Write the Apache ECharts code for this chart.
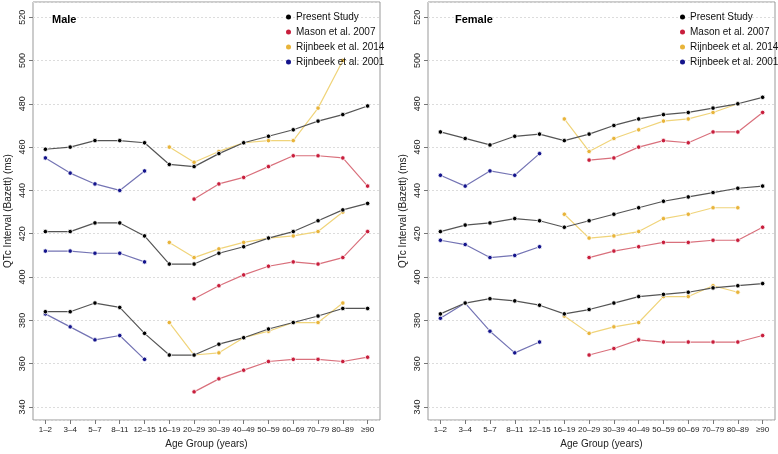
<!DOCTYPE html>
<html><head><meta charset="utf-8">
<script src="https://cdn.jsdelivr.net/npm/echarts@6/dist/echarts.min.js"></script>
<style>html,body{margin:0;padding:0;background:#fff}#c{width:778px;height:454px}</style>
</head><body><div id="c"></div>
<script>
const categories = ['1\u20132','3\u20134','5\u20137','8\u201311','12\u201315','16\u201319','20\u201329','30\u201339','40\u201349','50\u201359','60\u201369','70\u201379','80\u201389','\u226590'];
const yTicks = [340,360,380,400,420,440,460,480,500,520];
const _ = null;
// Male
const mPresentUp  = [459,460,463,463,462,452,451,457,462,465,468,472,475,479];
const mPresentMed = [421,421,425,425,419,406,406,411,414,418,421,426,431,434];
const mPresentLow = [384,384,388,386,374,364,364,369,372,376,379,382,385.5,385.5];
const mMasonUp  = [_,_,_,_,_,_,436,443,446,451,456,456,455,442];
const mMasonMed = [_,_,_,_,_,_,390,396,401,405,407,406,409,421];
const mMasonLow = [_,_,_,_,_,_,347,353,357,361,362,362,361,363];
const mR14Up  = [_,_,_,_,_,460,453,458,462,463,463,478,500,_];
const mR14Med = [_,_,_,_,_,416,409,413,416,418,419,421,430,_];
const mR14Low = [_,_,_,_,_,379,364,365,372,375,379,379,388,_];
const mR01Up  = [455,448,443,440,449,_,_,_,_,_,_,_,_,_];
const mR01Med = [412,412,411,411,407,_,_,_,_,_,_,_,_,_];
const mR01Low = [383,377,371,373,362,_,_,_,_,_,_,_,_,_];
// Female
const fPresentUp  = [467,464,461,465,466,463,466,470,473,475,476,478,480,483];
const fPresentMed = [421,424,425,427,426,423,426,429,432,435,437,439,441,442];
const fPresentLow = [383,388,390,389,387,383,385,388,391,392,393,395,396,397];
const fMasonUp  = [_,_,_,_,_,_,454,455,460,463,462,467,467,476];
const fMasonMed = [_,_,_,_,_,_,409,412,414,416,416,417,417,423];
const fMasonLow = [_,_,_,_,_,_,364,367,371,370,370,370,370,373];
const fR14Up  = [_,_,_,_,_,473,458,464,468,472,473,476,480,_];
const fR14Med = [_,_,_,_,_,429,418,419,421,427,429,432,432,_];
const fR14Low = [_,_,_,_,_,382,374,377,379,391,391,396,393,_];
const fR01Up  = [447,442,449,447,457,_,_,_,_,_,_,_,_,_];
const fR01Med = [417,415,409,410,414,_,_,_,_,_,_,_,_,_];
const fR01Low = [381,388,375,365,370,_,_,_,_,_,_,_,_,_];

const names = ['Present Study','Mason et al. 2007','Rijnbeek et al. 2014','Rijnbeek et al. 2001'];
const lineColors = ['#555555','#d9707c','#f0d47a','#7474b4'];
const dotColors  = ['#000000','#c81e3c','#e8b43a','#14148c'];

const font = 'Liberation Sans, Arial, sans-serif';
const grids = [
  {left:33, top:2, width:347, height:418, show:true, borderColor:'#999', borderWidth:1},
  {left:428, top:2, width:347, height:418, show:true, borderColor:'#999', borderWidth:1}
];
function xAx(i){return {type:'category', gridIndex:i, data:categories, boundaryGap:true,
  axisLine:{show:false}, axisTick:{show:true, alignWithLabel:true, length:4, lineStyle:{color:'#777'}},
  axisLabel:{fontSize:8, color:'#222', fontFamily:font, margin:6, interval:0},
  name:'Age Group (years)', nameLocation:'middle', nameGap:18, nameTextStyle:{fontSize:10, color:'#222', fontFamily:font}};}
function yAx(i){return {type:'value', gridIndex:i, min:334, max:527, splitNumber:10,
  axisLine:{show:false}, axisTick:{show:true, length:4, lineStyle:{color:'#777'}},
  axisLabel:{rotate:90, fontSize:9, color:'#222', fontFamily:font, margin:6, showMinLabel:false, showMaxLabel:false},
  splitLine:{show:true, lineStyle:{color:'#dcdcdc', type:[2,2], width:1}},
  name:'QTc Interval (Bazett) (ms)', nameLocation:'middle', nameGap:20, nameTextStyle:{fontSize:10, color:'#222', fontFamily:font}};}

const panels = [
  [[mPresentUp,mPresentMed,mPresentLow],[mMasonUp,mMasonMed,mMasonLow],[mR14Up,mR14Med,mR14Low],[mR01Up,mR01Med,mR01Low]],
  [[fPresentUp,fPresentMed,fPresentLow],[fMasonUp,fMasonMed,fMasonLow],[fR14Up,fR14Med,fR14Low],[fR01Up,fR01Med,fR01Low]]
];
const series = [];
panels.forEach((p, gi) => {
  p.forEach((group, si) => {
    group.forEach(arr => {
      series.push({type:'line', name:names[si], xAxisIndex:gi, yAxisIndex:gi, data:arr,
        symbol:'circle', symbolSize:4.5, showSymbol:true, connectNulls:false,
        lineStyle:{color:lineColors[si], width:1.2},
        itemStyle:{color:dotColors[si], borderColor:'#fff', borderWidth:0.8},
        color:dotColors[si], z: 2 + (si===0?1:0), animation:false});
    });
  });
});
function legend(left){return {left:left, top:7, orient:'vertical', itemWidth:5, itemHeight:5, itemGap:5,
  icon:'circle', data:names, textStyle:{fontSize:10, color:'#111', fontFamily:font, padding:[0,0,0,0]}, itemStyle:{borderWidth:0}};}
const option = {
  animation:false,
  title:[
    {text:'Male', left:47, top:9, textStyle:{fontSize:11, fontWeight:'bold', color:'#000', fontFamily:font}},
    {text:'Female', left:450, top:9, textStyle:{fontSize:11, fontWeight:'bold', color:'#000', fontFamily:font}}
  ],
  legend:[legend(281), legend(675)],
  grid:grids, xAxis:[xAx(0),xAx(1)], yAxis:[yAx(0),yAx(1)], series:series
};
const chart = echarts.init(document.getElementById('c'), null, {renderer:'canvas'});
chart.setOption(option);
</script></body></html>
